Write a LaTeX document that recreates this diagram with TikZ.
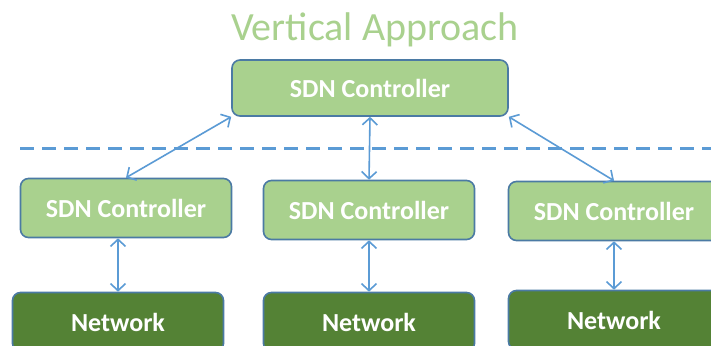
\documentclass[tikz,border=0pt]{standalone}
\usepackage{fontspec}
\setmainfont{Carlito}
\usetikzlibrary{arrows.meta}
\definecolor{ctrlfill}{RGB}{169,209,142}
\definecolor{netfill}{RGB}{84,130,53}
\definecolor{boxline}{RGB}{75,122,164}
\definecolor{linkblue}{RGB}{91,155,213}
\definecolor{titlegreen}{RGB}{169,209,142}
\tikzset{
  ctrlbox/.style={draw=boxline, line width=1.6pt, fill=ctrlfill, rounded corners=8pt,
    minimum width=211pt, minimum height=59pt, inner sep=0pt,
    text=white, font=\bfseries\fontsize{26}{30}\selectfont},
  netbox/.style={ctrlbox, fill=netfill},
  link/.style={draw=linkblue, line width=1.6pt,
    {Straight Barb[length=7pt,width=15pt]}-{Straight Barb[length=7pt,width=15pt]}},
  divider/.style={draw=linkblue, line width=3pt, dash pattern=on 14pt off 8pt}
}
\begin{document}
\begin{tikzpicture}[x=1pt,y=-1pt]
  \useasboundingbox (0,0) rectangle (711,345);
  \clip (0,0) rectangle (711,345);
  \fill[white] (0,0) rectangle (711,345);

  % title
  \node[text=titlegreen, font=\fontsize{40}{46}\selectfont] (title) at (375,30) {Vertical Approach};

  % dividing line between the upper and lower tiers
  \coordinate (dl) at (20,148);
  \coordinate (dr) at (711,148);
  \draw[divider] (dl) -- (dr);

  % controllers
  \node[ctrlbox, minimum width=276pt, minimum height=56pt] (top) at (370,88) {SDN Controller};
  \node[ctrlbox] (lc) at (126,208) {SDN Controller};
  \node[ctrlbox] (mc) at (369,210) {SDN Controller};
  \node[ctrlbox] (rc) at (614,211) {SDN Controller};

  % networks
  \node[netbox] (ln) at (118,322) {Network};
  \node[netbox] (mn) at (369,322) {Network};
  \node[netbox] (rn) at (614,320) {Network};

  % links
  \draw[link] (top.south west) -- (lc.north);
  \draw[link] (top.south) -- (mc.north);
  \draw[link] (top.south east) -- (rc.north);
  \draw[link] (ln.north |- lc.south) -- (ln.north);
  \draw[link] (mn.north |- mc.south) -- (mn.north);
  \draw[link] (rn.north |- rc.south) -- (rn.north);
\end{tikzpicture}
\end{document}
